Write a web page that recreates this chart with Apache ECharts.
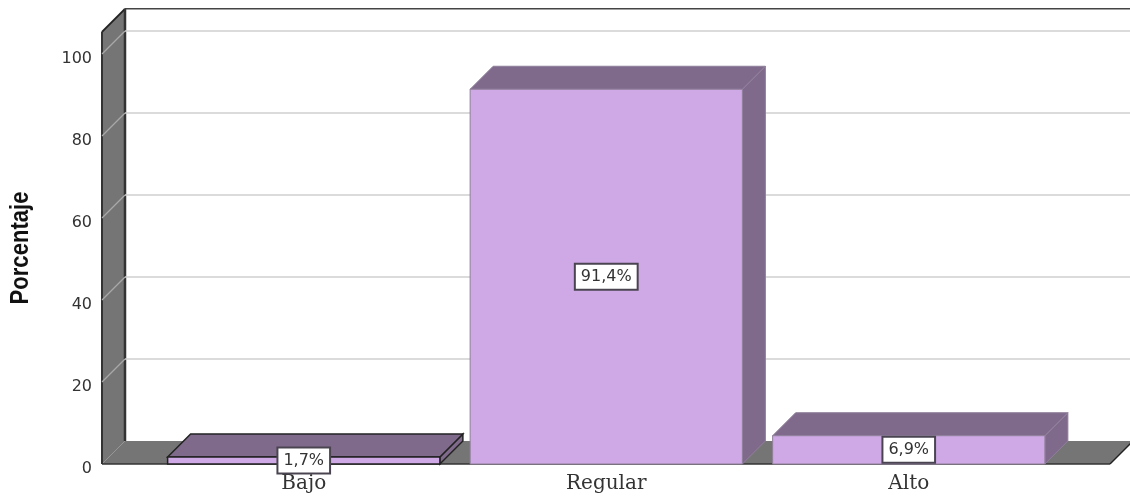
<!DOCTYPE html>
<html>
<head>
<meta charset="utf-8">
<style>html,body{margin:0;padding:0;background:#fff}#c{width:1130px;height:497px}</style>
<script src="https://cdn.jsdelivr.net/npm/echarts@6/dist/echarts.min.js"></script>
</head>
<body>
<div id="c"></div>
<script>
const categories = ['Bajo', 'Regular', 'Alto'];
const percentages = [1.7, 91.4, 6.9];
const yTicks = [0, 20, 40, 60, 80, 100];
const yTitle = 'Porcentaje';
const wallTopValue = 105.4;

const DEPTH = 23, AXIS_OFFSET = 50.5, FLOOR_EXTRA = 50;
const FRONT = '#CFA9E5', SHADE = '#7F6A8C', WALL = '#757575', GRID = '#CFCFCF', DARK = '#222';

function poly(points, fill, stroke, lw) {
  return { type: 'polygon', shape: { points }, style: { fill, stroke: stroke || 'none', lineWidth: lw || 1 } };
}
function seg(x1, y1, x2, y2, stroke, lw) {
  return { type: 'line', shape: { x1, y1, x2, y2 }, style: { stroke, lineWidth: lw || 1.5, fill: 'none' } };
}

function renderWalls(params, api) {
  const cs = params.coordSys;
  const L = cs.x - AXIS_OFFSET, R = cs.x + cs.width + FLOOR_EXTRA;
  const y0 = api.coord([0, 0])[1], yTop = api.coord([0, wallTopValue])[1];
  return { type: 'group', children: [
    poly([[L, y0], [L, yTop], [L + DEPTH, yTop - DEPTH], [L + DEPTH, y0 - DEPTH]], WALL),
    poly([[L, y0], [L + DEPTH, y0 - DEPTH], [R + DEPTH, y0 - DEPTH], [R, y0]], WALL),
    seg(L, y0, L, yTop, '#333', 2),
    seg(L, yTop, L + DEPTH, yTop - DEPTH, DARK, 2),
    seg(L + DEPTH, yTop - DEPTH, L + DEPTH, y0 - DEPTH, '#333', 2.5),
    seg(L + DEPTH, yTop - DEPTH, R + DEPTH, yTop - DEPTH, '#444', 1.5),
    seg(L, y0, R, y0, '#333', 1.5),
    seg(R, y0, R + DEPTH, y0 - DEPTH, DARK, 1.5)
  ] };
}

function renderGrid(params, api) {
  const cs = params.coordSys;
  const L = cs.x - AXIS_OFFSET, R = cs.x + cs.width + FLOOR_EXTRA;
  const t = api.value(1);
  const y = api.coord([0, t])[1];
  if (t === 0) return { type: 'group', children: [] };
  return { type: 'group', children: [
    seg(L, y, L + DEPTH, y - DEPTH, '#A8A8A8', 1.2),
    seg(L + DEPTH, y - DEPTH, R + DEPTH, y - DEPTH, GRID, 1.5)
  ] };
}

function renderBar(params, api) {
  const idx = api.value(0), v = api.value(1);
  const p = api.coord([idx, v]), base = api.coord([idx, 0]);
  const w = api.size([1, 0])[0] * 0.9;
  const x1 = p[0] - w / 2, x2 = p[0] + w / 2, yT = p[1], yB = base[1];
  const small = v < 3;
  const st = small ? '#222' : '#8F7F9A', lw = small ? 1.5 : 1;
  return { type: 'group', children: [
    poly([[x2, yB], [x2, yT], [x2 + DEPTH, yT - DEPTH], [x2 + DEPTH, yB - DEPTH]], SHADE, st, lw),
    poly([[x1, yT], [x1 + DEPTH, yT - DEPTH], [x2 + DEPTH, yT - DEPTH], [x2, yT]], SHADE, st, lw),
    { type: 'rect', shape: { x: x1, y: yT, width: w, height: yB - yT }, style: { fill: FRONT, stroke: st, lineWidth: lw } },
    { type: 'text', z2: 10, x: p[0], y: (yT + yB) / 2,
      style: { text: String(v).replace('.', ',') + '%', x: 0, y: 0, align: 'center', verticalAlign: 'middle',
        font: '16px "DejaVu Sans"', fill: '#333', backgroundColor: '#fff', borderColor: '#4A4450', borderWidth: 2,
        padding: [4, 5, 4, 5] } }
  ] };
}

const chart = echarts.init(document.getElementById('c'), null, { renderer: 'canvas' });
chart.setOption({
  animation: false,
  backgroundColor: '#fff',
  grid: { left: 152.5, width: 907.5, top: 54, bottom: 33, containLabel: false },
  xAxis: {
    type: 'category', data: categories,
    axisLine: { show: false }, axisTick: { show: false },
    axisLabel: { margin: 10, fontFamily: '"DejaVu Serif"', fontSize: 20, color: '#333' }
  },
  yAxis: {
    type: 'value', min: 0, max: 100, interval: 20, offset: AXIS_OFFSET,
    axisLine: { show: false }, axisTick: { show: false }, splitLine: { show: false },
    axisLabel: { margin: 10, verticalAlign: 'top', lineHeight: 10, fontFamily: '"DejaVu Sans"', fontSize: 16, color: '#333' }
  },
  graphic: [{
    type: 'text', x: 20.5, y: 248, rotation: Math.PI / 2, scaleX: 0.85, silent: true,
    style: { text: yTitle, align: 'center', verticalAlign: 'middle', font: 'bold 26px "Liberation Sans"', fill: '#111' }
  }],
  series: [
    { type: 'custom', renderItem: renderWalls, data: [[0, 0]], silent: true, clip: false, z: 1 },
    { type: 'custom', renderItem: renderGrid, data: yTicks.map(t => [0, t]), silent: true, clip: false, z: 2 },
    { type: 'custom', renderItem: renderBar, data: percentages.map((v, i) => [i, v]), silent: true, clip: false, z: 3 }
  ]
});
</script>
</body>
</html>
